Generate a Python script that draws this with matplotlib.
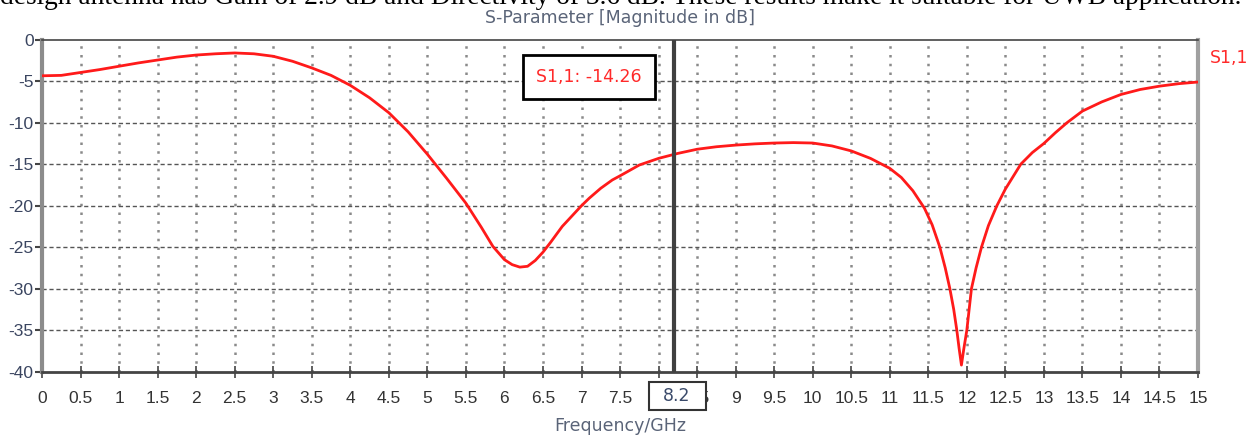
import numpy as np
import matplotlib.pyplot as plt
from matplotlib.patches import Rectangle
from matplotlib.transforms import blended_transform_factory

freq = [0, 0.25, 0.5, 0.75, 1.0, 1.25, 1.5, 1.75, 2.0, 2.25, 2.5, 2.75, 3.0, 3.25,
        3.5, 3.75, 4.0, 4.25, 4.5, 4.75, 5.0, 5.25, 5.5, 5.7, 5.85, 6.0, 6.1, 6.2,
        6.3, 6.4, 6.5, 6.6, 6.75, 6.9, 7.0, 7.1, 7.25, 7.4, 7.5, 7.75, 8.0, 8.25, 8.5,
        8.75, 9.0, 9.25, 9.5, 9.75, 10.0, 10.25, 10.5, 10.75, 11.0, 11.15, 11.3,
        11.45, 11.55, 11.65, 11.72, 11.78, 11.83, 11.87, 11.9, 11.93, 11.96, 12.0,
        12.03, 12.06, 12.12, 12.19, 12.28, 12.39, 12.5, 12.6, 12.7, 12.85, 13.0,
        13.15, 13.3, 13.5, 13.75, 14.0, 14.25, 14.5, 14.75, 15.0]
s11 = [-4.35, -4.3, -3.95, -3.6, -3.2, -2.8, -2.45, -2.1, -1.85, -1.7, -1.6, -1.7,
       -2.0, -2.6, -3.4, -4.3, -5.5, -7.0, -8.8, -11.1, -13.8, -16.7, -19.7, -22.6,
       -24.9, -26.5, -27.1, -27.4, -27.3, -26.6, -25.6, -24.4, -22.5, -21.0, -20.0,
       -19.1, -17.9, -16.9, -16.4, -15.1, -14.3, -13.7, -13.2, -12.9, -12.7, -12.55,
       -12.45, -12.4, -12.45, -12.8, -13.4, -14.3, -15.5, -16.6, -18.2, -20.3,
       -22.3, -25.0, -27.5, -30.0, -32.5, -35.0, -37.2, -39.2, -37.3, -35.0, -32.5,
       -30.0, -27.5, -25.0, -22.4, -20.0, -18.0, -16.5, -15.0, -13.6, -12.5, -11.2,
       -10.0, -8.6, -7.5, -6.6, -6.0, -5.6, -5.3, -5.1]
xticks = np.arange(0, 15.01, 0.5)
xticklabels = ["%g" % v for v in xticks]
yticks = list(range(-40, 1, 5))
marker_f = 8.2
marker_val = "-14.26"

sans = ["DejaVu Sans"]
ticks_font = ["Liberation Sans", "DejaVu Sans"]

fig = plt.figure(figsize=(12.55, 4.37), dpi=100)
ax = fig.add_axes([0.0335, 0.1494, 0.9211, 0.7598])

# grid: dotted verticals, dashed horizontals
for xv in xticks[1:-1]:
    ax.axvline(xv, color="#8a8a8a", lw=1.8, ls=(0, (1, 2.5)), zorder=1)
for yv in yticks[1:-1]:
    ax.axhline(yv, color="#555555", lw=1.0, ls=(0, (3, 2)), zorder=1)

ax.plot(freq, s11, color="#ff1a1a", lw=2.0, zorder=3)
ax.axvline(marker_f, color="#404040", lw=3, zorder=4)

ax.set_xlim(0, 15)
ax.set_ylim(-40, 0)
ax.set_xticks(xticks)
ax.set_xticklabels(xticklabels, family=ticks_font, fontsize=12.5, color="#333333")
ax.set_yticks(yticks)
ax.set_yticklabels([str(v) for v in yticks], family=ticks_font, fontsize=12.5,
                   color="#3a4560")
ax.tick_params(axis="x", direction="inout", length=8, width=1.2, color="#444444", pad=10)
ax.tick_params(axis="y", direction="out", length=5, width=1.5, color="#444444", pad=1)

ax.spines["left"].set_color("#8c8c8c")
ax.spines["left"].set_linewidth(3)
ax.spines["right"].set_color("#a0a0a0")
ax.spines["right"].set_linewidth(3)
ax.spines["bottom"].set_color("#444444")
ax.spines["bottom"].set_linewidth(2)
ax.spines["top"].set_color("#444444")
ax.spines["top"].set_linewidth(1.2)

ax.set_title("S-Parameter [Magnitude in dB]", family=sans, fontsize=12.5,
             color="#5a6478", pad=12)
ax.set_xlabel("Frequency/GHz", family=sans, fontsize=12.5, color="#5a6478", labelpad=8)

ax.text(7.1, -4.5, "S1,1: " + marker_val, family=sans, fontsize=12.5, color="#ff2a2a",
        ha="center", va="center", zorder=6,
        bbox=dict(boxstyle="square,pad=0.75", fc="white", ec="black", lw=2))

# frequency readout box under the marker line
trans = blended_transform_factory(ax.transData, ax.transAxes)
ax.add_patch(Rectangle((marker_f - 0.33, -0.115), 0.75, 0.084, transform=trans,
                       fc="white", ec="#333333", lw=1.5, clip_on=False, zorder=6))
ax.text(marker_f + 0.04, -0.073, "%g" % marker_f, family=sans, fontsize=12.5,
        color="#3a4a6a", ha="center", va="center", zorder=7, transform=trans,
        clip_on=False)
ax.text(15.15, -2.2, "S1,1", family=sans, fontsize=12.5, color="#ff2a2a",
        ha="left", va="center", clip_on=False)

fig.text(0.0, 1 - 4 / 437, "design antenna has Gain of 2.9 dB and Directivity of 3.6 dB. "
         "These results make it suitable for UWB application.",
         family=["Liberation Serif", "DejaVu Serif"], fontsize=19.7, va="baseline",
         ha="left", color="black")

fig.savefig("out.png", dpi=100)
